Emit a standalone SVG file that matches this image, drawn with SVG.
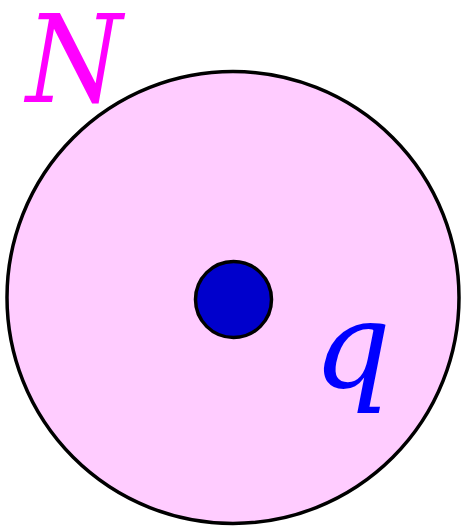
<svg xmlns="http://www.w3.org/2000/svg" width="461" height="528" viewBox="0 0 461 528">
<style>
.lbl{font-family:"DejaVu Serif",serif;font-style:italic;font-size:122px}
</style>
<rect width="461" height="528" fill="#ffffff"/>
<g id="outer"><circle cx="233" cy="297.5" r="226" fill="#ffccff" stroke="#000000" stroke-width="3.5"/></g>
<g id="inner"><circle cx="233.5" cy="299.5" r="38" fill="#0000cc" stroke="#000000" stroke-width="3.5"/></g>
<g id="labelN"><text class="lbl" transform="translate(26,102) scale(0.9,1)" fill="#ff00ff">N</text></g>
<g id="labelq"><text class="lbl" x="313" y="388" fill="#0000ff">q</text></g>
<g id="connectors"/>
</svg>
